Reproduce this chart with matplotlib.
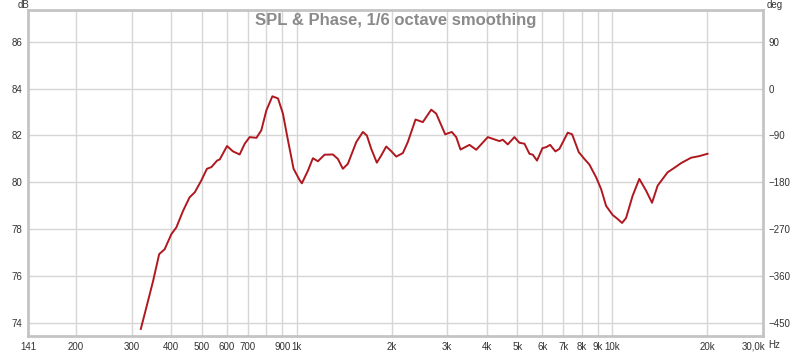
import numpy as np
import matplotlib.pyplot as plt
from matplotlib.transforms import ScaledTranslation

# Data (frequency in Hz, level in dB)
freq = [321, 334, 351, 367, 382, 401, 416, 437, 458, 476, 499, 520, 537, 560, 571,
        602, 629, 660, 685, 710, 746, 773, 802, 838, 873, 905, 939, 978, 1022, 1039,
        1086, 1126, 1168, 1226, 1303, 1351, 1401, 1453, 1545, 1621, 1669, 1723, 1795,
        1854, 1922, 1994, 2068, 2170, 2250, 2380, 2510, 2669, 2768, 2955, 3101, 3202,
        3304, 3528, 3705, 4031, 4389, 4496, 4664, 4896, 5078, 5267, 5462, 5596, 5773,
        6005, 6167, 6351, 6601, 6797, 7223, 7457, 7826, 8155, 8458, 8880, 9210, 9552,
        10020, 10393, 10733, 11050, 11594, 12173, 12786, 13356, 13912, 14962, 15715,
        16500, 17747, 18850, 20020]
spl = [73.75, 74.65, 75.79, 76.94, 77.15, 77.79, 78.08, 78.79, 79.36, 79.58, 80.08,
       80.58, 80.65, 80.93, 80.98, 81.55, 81.32, 81.19, 81.65, 81.93, 81.9, 82.22,
       83.07, 83.67, 83.58, 82.93, 81.79, 80.58, 80.1, 79.96, 80.5, 81.03, 80.9, 81.18,
       81.19, 81.0, 80.58, 80.79, 81.72, 82.15, 82.0, 81.43, 80.84, 81.15, 81.53, 81.33,
       81.1, 81.25, 81.72, 82.68, 82.57, 83.1, 82.93, 82.05, 82.15, 81.93, 81.4, 81.6,
       81.39, 81.93, 81.76, 81.82, 81.62, 81.93, 81.69, 81.65, 81.22, 81.18, 80.93,
       81.46, 81.5, 81.6, 81.32, 81.43, 82.12, 82.05, 81.29, 81.0, 80.76, 80.22, 79.72,
       79.0, 78.61, 78.44, 78.27, 78.48, 79.43, 80.15, 79.65, 79.13, 79.86, 80.43,
       80.62, 80.82, 81.05, 81.12, 81.22]

grid_freqs = [200, 300, 400, 500, 600, 700, 800, 900, 1000, 2000, 3000, 4000, 5000,
              6000, 7000, 8000, 9000, 10000, 20000]
xtick_freqs = [141, 200, 300, 400, 500, 600, 700, 900, 1000, 2000, 3000, 4000, 5000,
               6000, 7000, 8000, 9000, 10000, 20000, 30000]
xtick_labels = ['141', '200', '300', '400', '500', '600', '700', '900', '1k', '2k',
                '3k', '4k', '5k', '6k', '7k', '8k', '9k', '10k', '20k', '30,0k']
db_ticks = [74, 76, 78, 80, 82, 84, 86]
deg_ticks = [90, 0, -90, -180, -270, -360, -450]

plt.rcParams['font.family'] = ['Liberation Sans', 'DejaVu Sans']

fig = plt.figure(figsize=(8, 3.52), dpi=100)
ax = fig.add_axes([28 / 800, 16 / 352, 735 / 800, 326 / 352])
ax.set_xscale('log')
ax.set_xlim(141, 30000)
ax.set_ylim(73.45, 87.35)

for f in grid_freqs:
    ax.axvline(f, color='#d6d6d6', lw=1.0, zorder=0)
for d in db_ticks:
    ax.axhline(d, color='#d6d6d6', lw=1.0, zorder=0)

ax.plot(freq, spl, color='#b01820', lw=1.4, zorder=3)

ax.set_xticks(xtick_freqs)
ax.set_xticklabels(xtick_labels)
ax.xaxis.set_minor_locator(plt.NullLocator())
ax.set_yticks(db_ticks)
ax.tick_params(axis='both', length=0, labelsize=7, colors='#333333', pad=4)
# last label sits left of the "Hz" unit
last = ax.get_xticklabels()[-1]
last.set_transform(last.get_transform() + ScaledTranslation(-9 / 100, 0, fig.dpi_scale_trans))
for s in ax.spines.values():
    s.set_color('#c4c4c4')
    s.set_linewidth(2)

ax2 = ax.twinx()
ax2.set_ylim((73.45 - 84) * 45, (87.35 - 84) * 45)
ax2.set_yticks(deg_ticks)
ax2.tick_params(axis='y', length=0, labelsize=7, colors='#333333', pad=4)
for s in ax2.spines.values():
    s.set_visible(False)

ax.set_title('SPL & Phase, 1/6 octave smoothing', color='#8a8a8a',
             fontsize=12, fontweight='bold', y=0.955, pad=0)
fig.text(18 / 800, 1 - 5 / 352, 'dB', fontsize=7, color='#333333', va='center')
fig.text(767 / 800, 1 - 5 / 352, 'deg', fontsize=7, color='#333333', va='center')
fig.text(768 / 800, 1 - 345 / 352, 'Hz', fontsize=7, color='#333333', va='center')

fig.savefig('out.png', dpi=100)
